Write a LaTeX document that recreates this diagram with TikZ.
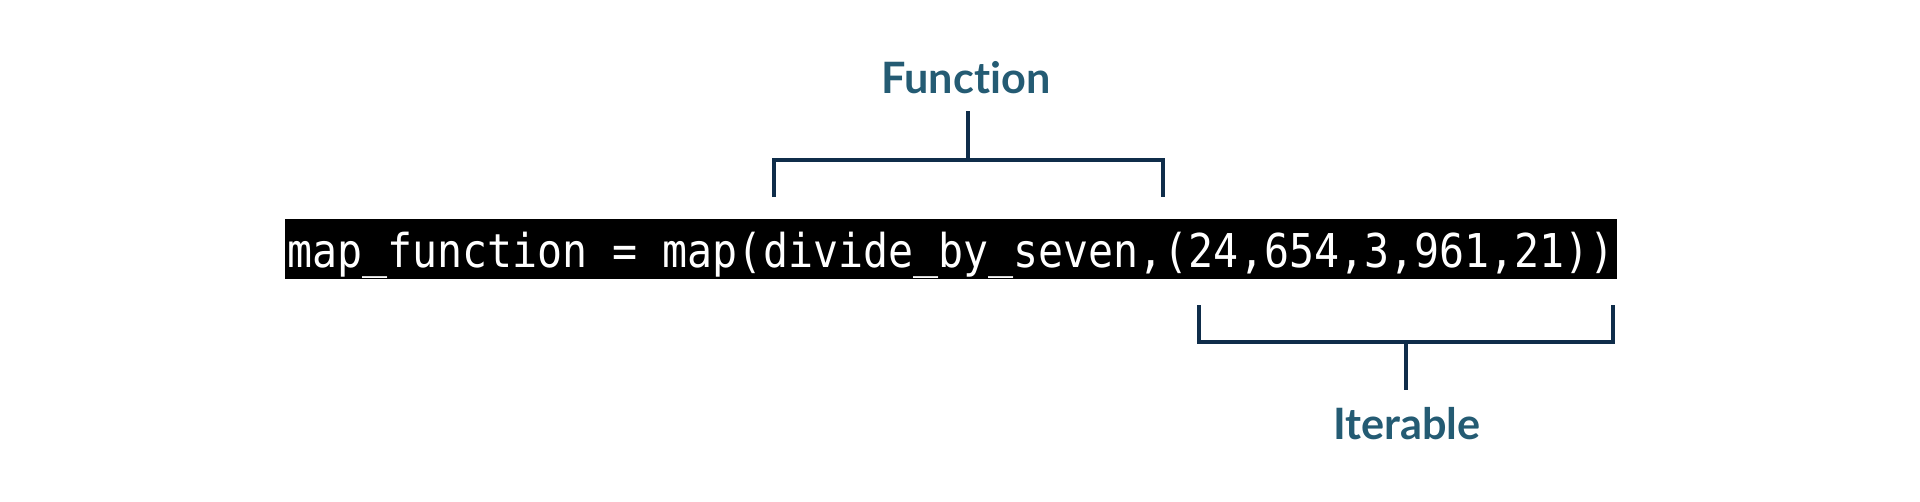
\documentclass[tikz,border=0pt]{standalone}
\usepackage{fontspec}
\usepackage{tikz}
\newfontfamily\codefont[FakeStretch=0.893]{DejaVu Sans Mono}
\newfontfamily\labelfont[Ligatures={NoCommon,NoRare}]{Lato}
\definecolor{bracketblue}{HTML}{0F2D4A}
\definecolor{labelblue}{HTML}{245B73}

\begin{document}
\begin{tikzpicture}[x=0.1mm, y=-0.1mm,
  bracket/.style={draw=bracketblue, line width=1pt},
  lbl/.style={text=labelblue, font=\labelfont\bfseries\fontsize{12.3pt}{14pt}\selectfont,
    text height=0.31cm, text depth=0pt, inner xsep=0pt, inner ysep=0.18cm, outer sep=0pt, anchor=base},
  code/.style={fill=black, text=white, font=\codefont\fontsize{13.26pt}{16pt}\selectfont,
    text height=0.48cm, text depth=0.12cm, inner xsep=0.02cm, inner ysep=0pt, outer sep=0pt, anchor=base west}]
  \useasboundingbox (0,0) rectangle (1920,501);

  \node [code] (code) at (285, 267) {map\_function = map(divide\_by\_seven,(24,654,3,961,21))};
  \node [lbl] (func) at (966, 93) {Function};
  \node [lbl] (iter) at (1407, 439) {Iterable};

  \coordinate (fl) at (774, 197);
  \coordinate (fr) at (1163, 197);
  \coordinate (fm) at (968, 160);
  \coordinate (il) at (1199, 305);
  \coordinate (ir) at (1613, 305);
  \coordinate (im) at (1406, 342);

  \draw [bracket] (fl) |- (fm) -| (fr);
  \draw [bracket] (fm) -- (func.south -| fm);
  \draw [bracket] (il) |- (im) -| (ir);
  \draw [bracket] (im) -- (iter.north -| im);
\end{tikzpicture}
\end{document}
